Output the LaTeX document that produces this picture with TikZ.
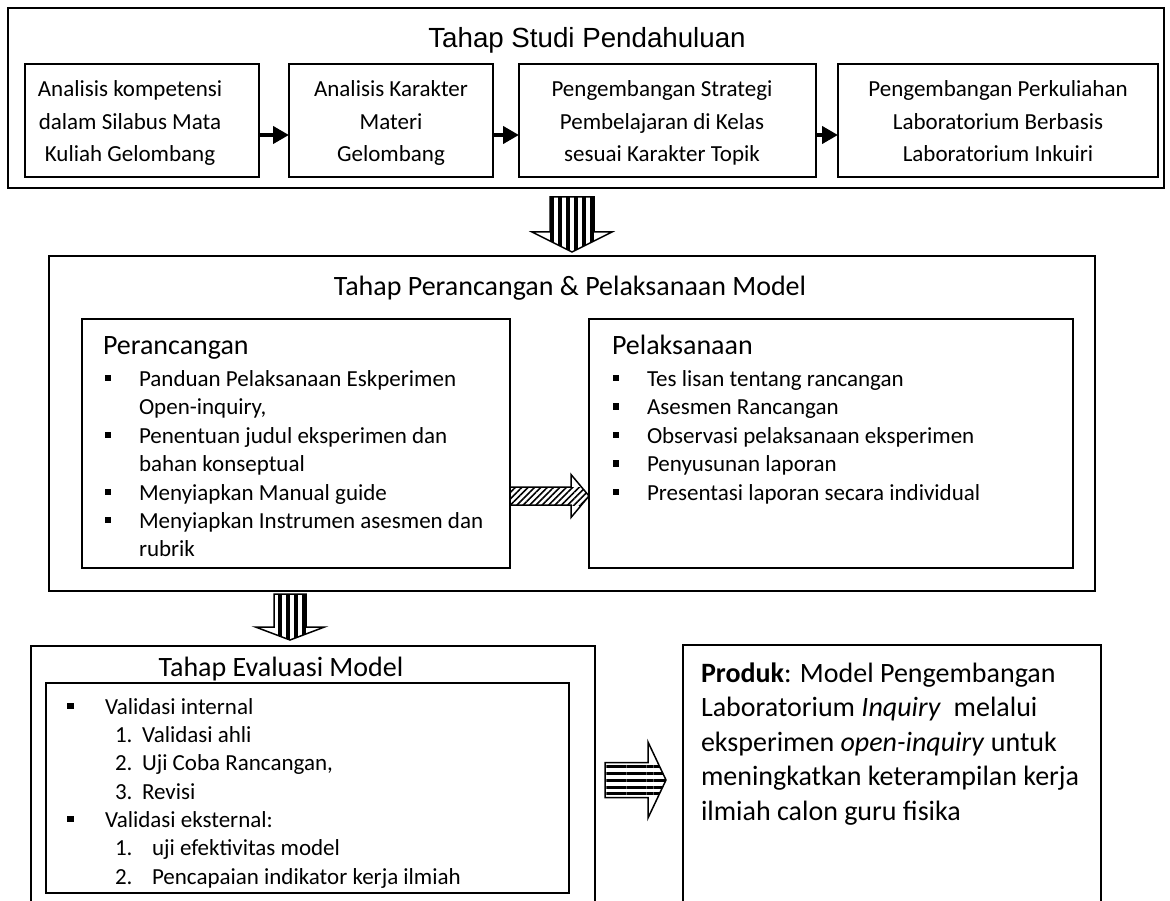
\documentclass[tikz,border=0pt]{standalone}
\usepackage{fontspec}
\setmainfont{Carlito}
\newfontfamily\arialfont{Liberation Sans}
\usetikzlibrary{calc,arrows.meta,patterns.meta}
\newcommand\ftxt{\fontsize{23pt}{28pt}\selectfont}
\newcommand\fbig{\fontsize{28pt}{34pt}\selectfont}
% vertical block arrow: start, end, shaft half width, head half width, head length, pattern
\newcommand\blockV[6]{%
  \begin{scope}
    \clip ($(#1)+(-#3,0)$) -- ($(#2)+(-#3,-#5)$) -- ($(#2)+(-#4,-#5)$) -- (#2) -- ($(#2)+(#4,-#5)$) -- ($(#2)+(#3,-#5)$) -- ($(#1)+(#3,0)$) -- cycle;
    \fill[pattern={#6}] ($(#1)+(-#3,0)$) rectangle ($(#2)+(#3,0)$);
  \end{scope}
  \draw[blockline] ($(#1)+(-#3,0)$) -- ($(#2)+(-#3,-#5)$) -- ($(#2)+(-#4,-#5)$) -- (#2) -- ($(#2)+(#4,-#5)$) -- ($(#2)+(#3,-#5)$) -- ($(#1)+(#3,0)$) -- cycle;
}
% horizontal block arrow
\newcommand\blockH[6]{%
  \begin{scope}
    \clip ($(#1)+(0,-#3)$) -- ($(#2)+(-#5,-#3)$) -- ($(#2)+(-#5,-#4)$) -- (#2) -- ($(#2)+(-#5,#4)$) -- ($(#2)+(-#5,#3)$) -- ($(#1)+(0,#3)$) -- cycle;
    \fill[pattern={#6}] ($(#1)+(0,-#3)$) rectangle ($(#2)+(0,#3)$);
  \end{scope}
  \draw[blockline] ($(#1)+(0,-#3)$) -- ($(#2)+(-#5,-#3)$) -- ($(#2)+(-#5,-#4)$) -- (#2) -- ($(#2)+(-#5,#4)$) -- ($(#2)+(-#5,#3)$) -- ($(#1)+(0,#3)$) -- cycle;
}
\begin{document}
\begin{tikzpicture}[x=1pt,y=-1pt,
  box/.style={draw, line width=1.6pt, inner sep=0pt, outer sep=0pt},
  openbox/.style={draw=none, inner sep=0pt, outer sep=0pt},
  ln/.style={inner sep=0pt, outer sep=0pt, anchor=base west, font=\ftxt},
  lc/.style={inner sep=0pt, outer sep=0pt, anchor=base, font=\ftxt},
  lb/.style={inner sep=0pt, outer sep=0pt, anchor=base west, font=\fbig},
  bul/.style={fill, inner sep=0pt, outer sep=0pt, minimum size=6.5pt},
  rowarrow/.style={line width=4pt, -{Triangle[length=16pt,width=17pt]}},
  blockline/.style={line width=1.5pt, line join=miter},
]
\useasboundingbox (0,0) rectangle (1170,901);
\fill[white] (0,0) rectangle (1170,901);

% ---------- Tahap Studi Pendahuluan ----------
\node[box, minimum width=1156pt, minimum height=180pt] (box1) at (586,98) {};
\node[inner sep=0pt, anchor=base, font=\arialfont\fontsize{27.7pt}{32pt}\selectfont] (t1) at (587,48) {Tahap Studi Pendahuluan};

\node[box, minimum width=234pt, minimum height=113pt] (a) at (142,120.5) {};
\node[box, minimum width=204pt, minimum height=113pt] (b) at (391,120.5) {};
\node[box, minimum width=297pt, minimum height=113pt] (c) at (667.5,120.5) {};
\node[box, minimum width=320pt, minimum height=113pt] (d) at (998,120.5) {};

\node[lc] (a1) at (130,97) {Analisis kompetensi};
\node[lc] (a2) at (130,129.5) {dalam Silabus Mata};
\node[lc] (a3) at (130,162) {Kuliah Gelombang};
\node[lc] (b1) at (391,97) {Analisis Karakter};
\node[lc] (b2) at (391,129.5) {Materi};
\node[lc] (b3) at (391,162) {Gelombang};
\node[lc] (c1) at (662,97) {Pengembangan Strategi};
\node[lc] (c2) at (662,129.5) {Pembelajaran di Kelas};
\node[lc] (c3) at (662,162) {sesuai Karakter Topik};
\node[lc] (d1) at (998,97) {Pengembangan Perkuliahan};
\node[lc] (d2) at (998,129.5) {Laboratorium Berbasis};
\node[lc] (d3) at (998,162) {Laboratorium Inkuiri};

\coordinate (yr) at (0,135);
\draw[rowarrow] (a.east |- yr) -- (b.west |- yr);
\draw[rowarrow] (b.east |- yr) -- (c.west |- yr);
\draw[rowarrow] (c.east |- yr) -- (d.west |- yr);

% ---------- Tahap Perancangan & Pelaksanaan ----------
\node[box, minimum width=1046pt, minimum height=335pt] (outer2) at (572,423.5) {};
\node[lb, anchor=base] (t2) at (570,296) {Tahap Perancangan \& Pelaksanaan Model};

\node[box, minimum width=428pt, minimum height=249pt] (per) at (296,443.5) {};
\node[box, minimum width=484pt, minimum height=249pt] (pel) at (831,443.5) {};

\node[lb] (perh) at (103,355) {Perancangan};
\node[bul] (pb1) at (108,378) {};
\node[bul] (pb2) at (108,435) {};
\node[bul] (pb3) at (108,492) {};
\node[bul] (pb4) at (108,520) {};
\node[ln] (p1) at (139,386) {Panduan Pelaksanaan Eskperimen};
\node[ln] (p2) at (139,414.5) {Open-inquiry,};
\node[ln] (p3) at (139,443) {Penentuan judul eksperimen dan};
\node[ln] (p4) at (139,471.5) {bahan konseptual};
\node[ln] (p5) at (139,500) {Menyiapkan Manual guide};
\node[ln] (p6) at (139,528) {Menyiapkan Instrumen asesmen dan};
\node[ln] (p7) at (139,556) {rubrik};

\node[lb] (pelh) at (612,355) {Pelaksanaan};
\node[bul] (qb1) at (616,378) {};
\node[bul] (qb2) at (616,406.5) {};
\node[bul] (qb3) at (616,435) {};
\node[bul] (qb4) at (616,463.5) {};
\node[bul] (qb5) at (616,492) {};
\node[ln] (q1) at (647,386) {Tes lisan tentang rancangan};
\node[ln] (q2) at (647,414.5) {Asesmen Rancangan};
\node[ln] (q3) at (647,443) {Observasi pelaksanaan eksperimen};
\node[ln] (q4) at (647,471.5) {Penyusunan laporan};
\node[ln] (q5) at (647,500) {Presentasi laporan secara individual};

% ---------- Tahap Evaluasi Model ----------
\node[openbox, minimum width=564pt, minimum height=255pt] (ev) at (313,773.5) {};
\draw[line width=1.6pt] (ev.south west) -- (ev.north west) -- (ev.north east) -- (ev.south east);
\node[lb, anchor=base] (t3) at (281,676) {Tahap Evaluasi Model};
\node[box, minimum width=523pt, minimum height=210pt] (ei) at (307.5,788) {};

\node[bul] (eb1) at (70.5,706) {};
\node[bul] (eb2) at (70.5,819) {};
\node[ln] (e1) at (105,714) {Validasi internal};
\node[ln] (n1) at (115,742.3) {1.};
\node[ln] (e2) at (142,742.3) {Validasi ahli};
\node[ln] (n2) at (115,770.6) {2.};
\node[ln] (e3) at (142,770.6) {Uji Coba Rancangan,};
\node[ln] (n3) at (115,799) {3.};
\node[ln] (e4) at (142,799) {Revisi};
\node[ln] (e5) at (105,827.2) {Validasi eksternal:};
\node[ln] (n4) at (115,855.5) {1.};
\node[ln] (e6) at (152,855.5) {uji efektivitas model};
\node[ln] (n5) at (115,884) {2.};
\node[ln] (e7) at (152,884) {Pencapaian indikator kerja ilmiah};

% ---------- Produk ----------
\node[openbox, minimum width=418pt, minimum height=256pt] (pr) at (892,773) {};
\draw[line width=1.6pt] (pr.south west) -- (pr.north west) -- (pr.north east) -- (pr.south east);
\node[lb] (r1) at (701,682) {\textbf{Produk}: Model Pengembangan};
\node[lb] (r2) at (701,716.6) {Laboratorium \textit{Inquiry}\ \ melalui};
\node[lb] (r3) at (701,751.2) {eksperimen \textit{open-inquiry} untuk};
\node[lb] (r4) at (701,785.8) {meningkatkan keterampilan kerja};
\node[lb] (r5) at (701,820.4) {ilmiah calon guru fisika};

% ---------- block arrows ----------
\coordinate (d1a) at ($(box1.south -| outer2.north)+(0,9)$);
\coordinate (d1b) at ($(outer2.north)+(0,-4)$);
\blockV{d1a}{d1b}{22}{40}{20}{Lines[angle=90,distance=8pt,line width=3.5pt]}

\coordinate (d2x) at (290,0);
\coordinate (d2a) at ($(outer2.south -| d2x)+(0,3)$);
\coordinate (d2b) at ($(ev.north -| d2x)+(0,-6)$);
\blockV{d2a}{d2b}{16}{34.5}{13}{Lines[angle=90,distance=8pt,line width=3.5pt]}

\coordinate (yh) at (0,496);
\coordinate (h1) at (per.east |- yh);
\coordinate (h2) at (pel.west |- yh);
\blockH{h1}{h2}{9}{21.5}{18}{Lines[angle=45,distance=4.5pt,line width=1.6pt]}

\coordinate (yp) at (0,780);
\coordinate (pa) at ($(ev.east |- yp)+(10,0)$);
\coordinate (pb) at ($(pr.west |- yp)+(-17,0)$);
\blockH{pa}{pb}{17.5}{38}{18}{Lines[angle=0,distance=6.7pt,line width=3pt]}
\end{tikzpicture}
\end{document}
